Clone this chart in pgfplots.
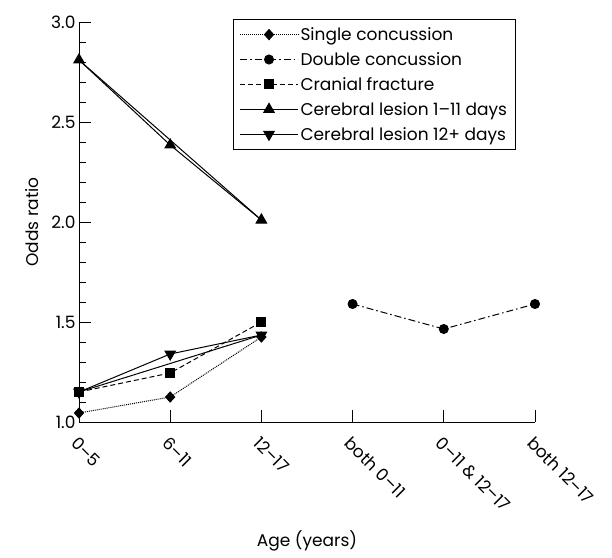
\documentclass[border=0pt]{standalone}
\usepackage{pgfplots}
\pgfplotsset{compat=1.18}
\usepackage{fontspec}
\setmainfont{Poppins}
\newcommand\ff{\fontsize{17bp}{20bp}\selectfont}
\begin{document}
\begin{tikzpicture}
\path[use as bounding box] (-79bp,-136bp) rectangle (533bp,422bp);
\begin{axis}[
  scale only axis, width=456bp, height=400bp,
  xmin=0, xmax=5, ymin=1, ymax=3,
  axis x line=bottom, axis y line=left, axis line style={-, line width=0.8bp},
  xtick={0,1,2,3,4,5},
  xticklabels={0--5,6--11,12--17,both 0--11,0--11 \& 12--17,both 12--17},
  x tick label style={yshift=-12bp, xshift=0bp, rotate=-45, anchor=north west, inner sep=1bp},
  ytick={1,1.5,2,2.5,3},
  minor y tick num=4,
  yticklabel style={/pgf/number format/.cd, fixed, fixed zerofill, precision=1},
  /pgf/number format/assume math mode=true,
  tick align=inside,
  major tick length=12bp, minor tick length=7bp,
  tick style={line width=0.7bp, black},
  tick label style={font=\ff},
  label style={font=\ff},
  xlabel={Age (years)},
  ylabel={Odds ratio},
  xlabel style={at={(axis description cs:0.5,-0.297)}, anchor=center},
  ylabel style={at={(axis description cs:-0.103,0.5)}, anchor=center, rotate=0},
  legend style={font=\ff, at={(axis description cs:0.338,1.0075)}, anchor=north west,
    draw=black, line width=0.8bp, inner xsep=6bp, inner ysep=6bp, row sep=6.5bp,
    cells={anchor=west}},
  legend image code/.code={\draw[mark repeat=2,mark phase=2,#1] plot coordinates {(0bp,0bp) (29bp,0bp) (58bp,0bp)};},
  every axis plot/.append style={black, line width=1bp},
]
\addplot[densely dotted, mark=diamond*, mark size=5bp, mark options={solid, xscale=1.2}] coordinates {(0,1.045) (1,1.125) (2,1.425)};
\addlegendentry{Single concussion}
\addplot[dash pattern=on 7bp off 3bp on 1.5bp off 3bp, mark=*, mark size=4.5bp, mark options={solid}] coordinates {(3,1.59) (4,1.465) (5,1.59)};
\addlegendentry{Double concussion}
\addplot[dash pattern=on 5bp off 3bp, mark=square*, mark size=4.5bp, mark options={solid}] coordinates {(0,1.15) (1,1.245) (2,1.50)};
\addlegendentry{Cranial fracture}
\addplot[solid, mark=triangle*, mark size=6bp] coordinates {(0,2.81) (1,2.385) (2,2.01)};
\addlegendentry{Cerebral lesion 1--11 days}
\addplot[solid, mark=triangle*, mark size=6bp, mark options={rotate=180}] coordinates {(0,1.15) (1,1.34) (2,1.435)};
\addlegendentry{Cerebral lesion 12+ days}
\addplot[solid, forget plot] coordinates {(0,2.81) (2,2.01)};
\addplot[solid, forget plot] coordinates {(0,1.15) (2,1.435)};
\end{axis}
\end{tikzpicture}
\end{document}
